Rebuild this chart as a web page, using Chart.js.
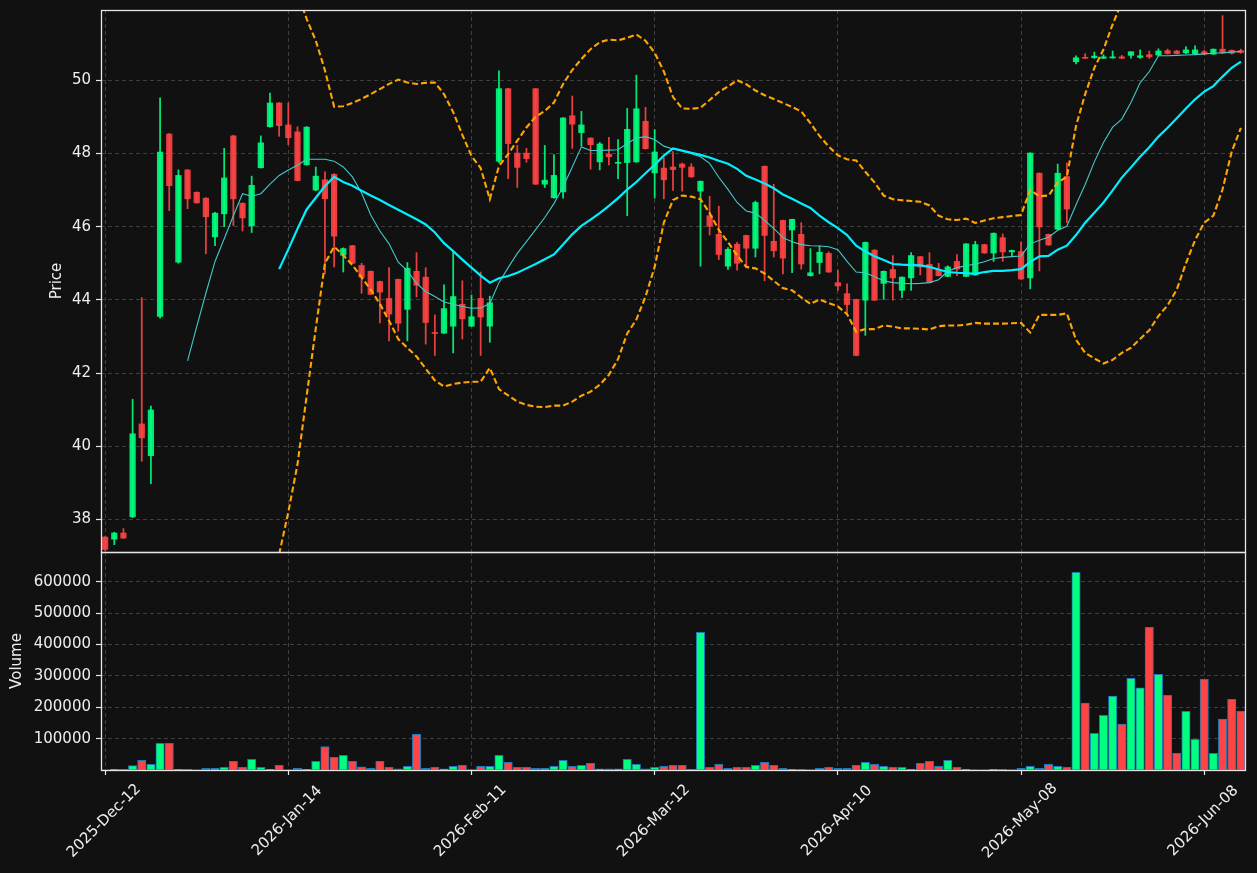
<!DOCTYPE html>
<html><head><meta charset="utf-8">
<script src="https://cdn.jsdelivr.net/npm/chart.js@4.4.1/dist/chart.umd.min.js"></script>
<style>
html,body{margin:0;padding:0;background:#111111;}
#wrap{position:relative;width:1257px;height:873px;background:#111111;}
canvas{position:absolute;left:0;top:0;}
</style></head><body>
<div id="wrap"><canvas id="pc" width="1257" height="873"></canvas><canvas id="vc" width="1257" height="873"></canvas></div>
<script>
// ---- tick labels ----
const tickIdx = [0, 20, 40, 60, 80, 100, 120];
const tickLabels = ['2025-Dec-12', '2026-Jan-14', '2026-Feb-11', '2026-Mar-12', '2026-Apr-10', '2026-May-08', '2026-Jun-08'];
const priceTicks = [38, 40, 42, 44, 46, 48, 50];
const volTicks = [100000, 200000, 300000, 400000, 500000, 600000];

// ---- OHLC ----
const open = [37.52,37.46,37.63,38.07,40.61,39.74,43.55,48.53,45.03,47.55,
46.94,46.78,45.72,46.35,48.48,46.64,46.02,47.61,48.73,49.38,
48.78,48.59,47.69,47.00,47.28,47.43,45.22,45.48,44.94,44.78,
44.50,44.04,44.56,43.74,44.78,44.62,43.11,43.09,43.28,43.88,
43.28,44.04,43.28,47.79,49.77,48.01,48.01,49.77,47.16,46.79,
46.95,49.03,48.57,48.42,47.77,47.98,47.73,47.75,47.77,48.88,
47.47,47.60,47.63,47.71,47.63,46.97,46.30,45.79,44.92,45.52,
45.76,45.41,47.65,45.60,46.17,45.91,45.79,44.66,45.02,45.27,
44.47,44.17,44.01,43.99,45.36,44.45,44.83,44.26,44.60,45.18,
44.97,44.81,44.64,45.05,44.64,44.68,45.51,45.28,45.70,45.31,
45.32,44.60,47.46,45.79,45.93,47.37,50.505,50.615,50.615,50.60,
50.61,50.64,50.68,50.625,50.70,50.69,50.81,50.80,50.75,50.715,
50.78,50.715,50.85,50.82,50.81];
const high = [37.53,37.65,37.75,41.28,44.06,41.10,49.52,48.55,47.55,47.56,
46.95,46.79,46.39,48.14,48.50,46.65,47.38,48.48,49.65,49.39,
49.38,48.73,48.73,47.63,47.50,47.45,45.42,45.49,45.00,44.79,
44.51,44.88,44.57,45.02,45.29,44.88,43.59,44.41,45.34,44.52,
44.13,44.76,44.10,50.26,49.78,48.22,48.14,49.78,48.22,47.97,
48.98,49.57,49.15,48.43,48.30,48.44,48.38,49.23,50.14,49.26,
48.65,47.88,48.05,47.74,47.72,47.25,46.83,46.56,45.43,45.57,
45.77,46.70,47.66,47.16,46.18,46.21,46.11,45.40,45.47,45.31,
44.81,44.44,44.02,45.58,45.37,44.79,45.21,44.63,45.29,45.19,
45.29,45.00,44.93,45.24,45.54,45.60,45.52,45.83,45.80,45.36,
45.58,48.02,47.47,45.80,47.71,47.74,50.67,50.725,50.77,50.70,
50.80,50.68,50.78,50.83,50.80,50.86,50.85,50.82,50.92,50.94,
50.82,50.855,51.765,50.83,50.85];
const low = [37.15,37.31,37.48,38.05,39.59,38.98,43.50,46.44,45.00,46.49,
46.64,45.26,45.48,46.00,46.03,45.88,45.84,47.60,48.72,48.47,
48.24,47.25,47.68,46.98,44.71,44.90,44.76,44.99,44.18,44.14,
43.37,42.88,43.14,42.88,44.08,42.79,42.48,43.08,42.55,42.93,
43.27,42.48,42.84,47.75,47.31,47.07,47.76,47.15,47.07,46.78,
46.78,48.14,48.20,47.57,47.55,47.69,47.31,46.30,47.76,48.12,
46.78,46.76,46.99,46.97,47.35,44.92,45.77,45.10,44.83,44.81,
44.90,45.17,44.52,45.17,44.71,44.74,44.84,44.65,44.71,44.75,
44.26,43.61,42.47,43.03,43.98,44.01,43.99,44.06,44.26,44.68,
44.46,44.65,44.63,44.66,44.63,44.67,45.27,45.05,45.05,45.19,
44.56,44.30,44.79,45.49,45.92,46.11,50.45,50.595,50.60,50.595,
50.605,50.595,50.605,50.60,50.595,50.66,50.715,50.72,50.73,50.71,
50.70,50.705,50.73,50.715,50.74];
const close = [37.18,37.63,37.49,40.34,40.23,40.99,48.04,47.12,47.40,46.76,
46.65,46.27,46.37,47.33,46.76,46.24,47.13,48.29,49.38,48.76,
48.43,47.26,48.72,47.38,46.76,45.74,45.40,45.00,44.62,44.15,
44.21,43.61,43.36,44.86,44.40,43.38,43.08,43.76,44.09,43.48,
43.54,43.53,43.92,49.77,48.27,47.62,47.86,47.16,47.27,47.40,
48.97,48.80,48.78,48.24,48.26,47.91,47.75,48.66,49.22,48.13,
48.04,47.28,47.56,47.62,47.36,47.24,46.01,45.24,45.38,45.00,
45.41,46.66,45.76,45.34,45.14,46.20,44.98,44.74,45.30,44.76,
44.38,43.87,42.48,45.57,43.99,44.78,44.60,44.62,45.21,44.90,
44.47,44.66,44.90,44.84,45.53,45.51,45.28,45.82,45.31,45.35,
44.57,48.01,45.99,45.50,47.46,46.48,50.615,50.60,50.66,50.64,
50.64,50.60,50.78,50.67,50.64,50.80,50.73,50.73,50.83,50.83,
50.715,50.85,50.74,50.74,50.76];

// ---- volume ----
const volume = [800,2000,2000,14000,31000,18000,85000,85000,2000,2000,
800,5000,5000,8500,28000,8500,34000,8500,2000,15000,
800,5000,2000,28000,75000,40000,47000,28000,10500,5000,
28000,8500,4000,11500,114000,5000,8500,4000,11500,15000,
800,11500,11500,47000,24500,8500,8500,5000,5000,11500,
31000,11500,15000,21000,4000,4000,4000,34000,18000,4000,
8500,11500,15000,15000,2000,439000,8500,18000,5000,8500,
8500,15000,24500,15000,5000,2000,2000,800,5000,8500,
5000,5000,15000,24500,18000,11500,8500,8500,2000,21000,
28000,11500,31000,8500,2000,800,800,2000,2000,800,
5000,11500,5000,18000,11500,8500,630000,213000,117000,174500,
236000,146000,292500,261700,455000,305000,238000,53000,187000,98000,
289000,53000,162000,225500,187000];

// ---- moving averages ----
const maFast = [null,null,null,null,null,null,null,null,null,42.33,
43.27,44.18,45.05,45.67,46.30,46.90,46.83,46.90,47.16,47.40,
47.55,47.68,47.84,47.84,47.84,47.79,47.63,47.36,46.92,46.32,
45.88,45.53,45.03,44.79,44.45,44.23,44.09,43.94,43.88,43.82,
43.77,43.78,43.90,44.47,44.88,45.27,45.59,45.92,46.25,46.63,
47.09,47.63,48.18,48.08,48.08,48.09,48.10,48.27,48.42,48.46,
48.38,48.20,48.12,48.06,47.99,47.91,47.73,47.35,47.02,46.66,
46.43,46.37,46.17,45.95,45.70,45.59,45.51,45.48,45.47,45.45,
45.37,45.05,44.76,44.74,44.63,44.52,44.47,44.45,44.44,44.45,
44.47,44.55,44.78,44.88,44.93,44.98,45.04,45.13,45.16,45.18,
45.20,45.53,45.63,45.71,45.90,46.01,46.60,47.15,47.77,48.30,
48.72,48.94,49.39,49.93,50.24,50.67,50.67,50.68,50.69,50.70,
50.72,50.74,50.75,50.77,50.79];
const maSlow = [null,null,null,null,null,null,null,null,null,null,
null,null,null,null,null,null,null,null,null,44.84,
45.38,45.94,46.47,46.79,47.11,47.36,47.22,47.12,46.98,46.85,
46.73,46.59,46.46,46.33,46.20,46.06,45.84,45.55,45.33,45.10,
44.88,44.66,44.47,44.59,44.65,44.74,44.86,44.98,45.11,45.24,
45.51,45.79,46.02,46.19,46.37,46.57,46.78,47.01,47.22,47.46,
47.69,47.94,48.14,48.08,48.02,47.96,47.89,47.80,47.72,47.58,
47.39,47.29,47.18,47.05,46.88,46.76,46.63,46.51,46.30,46.12,
45.96,45.77,45.48,45.32,45.19,45.09,44.98,44.96,44.95,44.94,
44.90,44.83,44.76,44.74,44.73,44.71,44.76,44.79,44.79,44.81,
44.84,45.04,45.19,45.20,45.37,45.48,45.77,46.11,46.38,46.66,
46.99,47.34,47.62,47.91,48.17,48.46,48.70,48.96,49.23,49.48,
49.69,49.84,50.10,50.34,50.51];
// ---- Bollinger bands ----
const bbUpper = [null,null,null,null,null,null,null,null,null,null,
null,null,null,null,null,null,null,null,null,52.63,
52.56,52.38,51.68,51.08,50.27,49.28,49.29,49.38,49.49,49.62,
49.76,49.90,50.02,49.94,49.90,49.93,49.94,49.62,49.13,48.51,
47.93,47.60,46.75,47.66,47.98,48.35,48.71,49.00,49.16,49.39,
49.90,50.28,50.58,50.85,51.04,51.11,51.09,51.16,51.25,51.08,
50.75,50.24,49.54,49.23,49.22,49.25,49.46,49.68,49.83,50.00,
49.89,49.72,49.59,49.49,49.38,49.27,49.15,48.83,48.48,48.19,
47.95,47.84,47.81,47.50,47.21,46.85,46.75,46.72,46.70,46.68,
46.58,46.30,46.20,46.18,46.22,46.10,46.17,46.23,46.26,46.29,
46.32,47.00,46.83,46.85,47.21,47.36,48.75,49.62,50.34,50.84,
51.53,52.13,52.55,52.89,53.17,53.36,53.55,53.64,53.46,53.33,
53.27,53.38,53.18,52.63,52.32];
const bbLower = [null,null,null,null,null,null,null,null,null,null,
null,null,null,null,null,null,null,null,null,37.05,
38.20,39.50,41.37,43.22,45.00,45.45,45.22,44.95,44.62,44.28,
43.89,43.43,42.93,42.69,42.45,42.12,41.80,41.63,41.70,41.74,
41.76,41.76,42.14,41.56,41.39,41.22,41.13,41.08,41.07,41.11,
41.11,41.22,41.38,41.49,41.68,41.95,42.38,43.08,43.46,44.09,
44.90,46.11,46.73,46.85,46.82,46.75,46.37,45.91,45.58,45.21,
44.90,44.86,44.72,44.52,44.32,44.26,44.07,43.89,44.01,43.91,
43.82,43.61,43.13,43.20,43.20,43.30,43.27,43.22,43.22,43.21,
43.19,43.28,43.30,43.30,43.32,43.37,43.35,43.35,43.35,43.36,
43.37,43.11,43.59,43.59,43.59,43.63,42.91,42.55,42.40,42.26,
42.36,42.55,42.69,42.93,43.17,43.56,43.85,44.28,45.00,45.63,
46.11,46.30,47.02,48.05,48.70];

// ---- styling ----
const FONT = 'DejaVu Sans';
const TXT = '#eeeeee';
const GRID = '#3f3f3f';
const SPINE = '#e6e6e6';
const CANDLE_UP = 'rgba(0,255,127,0.9)';
const CANDLE_DN = 'rgba(255,68,68,0.9)';
const VOL_UP = '#00ff7f';
const VOL_DN = '#ff4444';
const VOL_EDGE = '#1f77b4';
const X_MIN = -0.45, X_MAX = 124.45;

Chart.defaults.font.family = FONT;
Chart.defaults.font.size = 15;
Chart.defaults.color = TXT;

const idx = open.map((_, i) => i);
const isUp = i => close[i] >= open[i];

const spinePlugin = {
  id: 'spine',
  afterDraw(chart, args, opts) {
    const a = chart.chartArea, ctx = chart.ctx;
    ctx.save();
    ctx.strokeStyle = SPINE;
    ctx.lineWidth = 1.3;
    ctx.strokeRect(a.left + 0.5, a.top + 0.5, a.right - a.left, a.bottom - a.top);
    if (opts.title) {
      ctx.fillStyle = TXT;
      ctx.font = '15px "' + FONT + '"';
      ctx.textAlign = 'center';
      ctx.textBaseline = 'middle';
      ctx.translate(opts.tx, (a.top + a.bottom) / 2);
      ctx.rotate(-Math.PI / 2);
      ctx.fillText(opts.title, 0, 0);
    }
    ctx.restore();
  }
};

const xLabelPlugin = {
  id: 'xlabels',
  afterDraw(chart) {
    const ctx = chart.ctx, xs = chart.scales.x;
    ctx.save();
    ctx.fillStyle = TXT;
    ctx.font = '15px "' + FONT + '"';
    ctx.textAlign = 'center';
    ctx.textBaseline = 'middle';
    tickIdx.forEach((v, k) => {
      const px = xs.getPixelForValue(v);
      ctx.save();
      ctx.translate(px - 1, 821);
      ctx.rotate(-Math.PI / 4);
      ctx.fillText(tickLabels[k], 0, 0);
      ctx.restore();
    });
    ctx.restore();
  }
};

function zeroPad(s) { s.paddingTop = 0; s.paddingBottom = 0; s.paddingLeft = 0; s.paddingRight = 0; }

function xScale(showTicks, h) {
  return {
    type: 'linear', min: X_MIN, max: X_MAX, offset: false,
    afterBuildTicks: ax => { ax.ticks = tickIdx.map(v => ({ value: v })); },
    afterFit: s => { s.height = h; zeroPad(s); },
    ticks: { display: false },
    border: { display: false, dash: [4, 3] },
    grid: { offset: false, color: GRID, lineWidth: 1, drawTicks: showTicks, tickLength: 5, tickColor: SPINE, tickWidth: 1.2, tickBorderDash: [] }
  };
}
function yScale(min, max, tks) {
  return {
    type: 'linear', min: min, max: max, offset: false,
    afterBuildTicks: ax => { ax.ticks = tks.map(v => ({ value: v })); },
    afterFit: s => { s.width = 101; zeroPad(s); },
    ticks: { color: TXT, padding: 5, font: { size: 15 }, callback: v => String(v) },
    border: { display: false, dash: [4, 3] },
    grid: { offset: false, color: GRID, lineWidth: 1, drawTicks: true, tickLength: 5, tickColor: SPINE, tickWidth: 1.2, tickBorderDash: [] }
  };
}

const lineDs = (arr, color, width, dash, order) => ({
  type: 'line',
  data: idx.map(i => ({ x: i, y: arr[i] })),
  borderColor: color, borderWidth: width, borderDash: dash,
  pointRadius: 0, fill: false, spanGaps: false, tension: 0, order: order
});

new Chart(document.getElementById('pc'), {
  type: 'bar',
  data: {
    datasets: [
      { type: 'bar', data: idx.map(i => ({ x: i, y: [low[i], high[i]] })),
        backgroundColor: idx.map(i => isUp(i) ? CANDLE_UP : CANDLE_DN),
        barThickness: 1.1, grouped: false, order: 6 },
      { type: 'bar', data: idx.map(i => ({ x: i, y: [open[i], close[i]] })),
        backgroundColor: idx.map(i => isUp(i) ? CANDLE_UP : CANDLE_DN),
        barThickness: 5.6, minBarLength: 1, grouped: false, order: 5 },
      lineDs(bbUpper, '#ffa500', 2.1, [6, 3], 4),
      lineDs(bbLower, '#ffa500', 2.1, [6, 3], 3),
      lineDs(maFast, '#45c8c8', 1.1, [], 2),
      lineDs(maSlow, '#00f0ff', 2.2, [], 1)
    ]
  },
  options: {
    responsive: false, animation: false, devicePixelRatio: 1, events: [],
    layout: { autoPadding: false, padding: { top: 10, right: 12, bottom: 321, left: 0 } },
    plugins: { legend: { display: false }, tooltip: { enabled: false },
      spine: { title: 'Price', tx: 57 } },
    scales: {
      x: xScale(false, 0),
      y: yScale(37.11, 51.92, priceTicks)
    }
  },
  plugins: [spinePlugin]
});

new Chart(document.getElementById('vc'), {
  type: 'bar',
  data: {
    datasets: [
      { type: 'bar', data: idx.map(i => ({ x: i, y: volume[i] })),
        backgroundColor: idx.map(i => isUp(i) ? VOL_UP : VOL_DN),
        borderColor: VOL_EDGE, borderWidth: 1, borderSkipped: false,
        barThickness: 8.4, grouped: false }
    ]
  },
  options: {
    responsive: false, animation: false, devicePixelRatio: 1, events: [],
    layout: { autoPadding: false, padding: { top: 552, right: 12, bottom: 0, left: 0 } },
    plugins: { legend: { display: false }, tooltip: { enabled: false },
      spine: { title: 'Volume', tx: 17 } },
    scales: {
      x: xScale(true, 103),
      y: yScale(0, 695000, volTicks)
    }
  },
  plugins: [spinePlugin, xLabelPlugin]
});
</script>
</body></html>
